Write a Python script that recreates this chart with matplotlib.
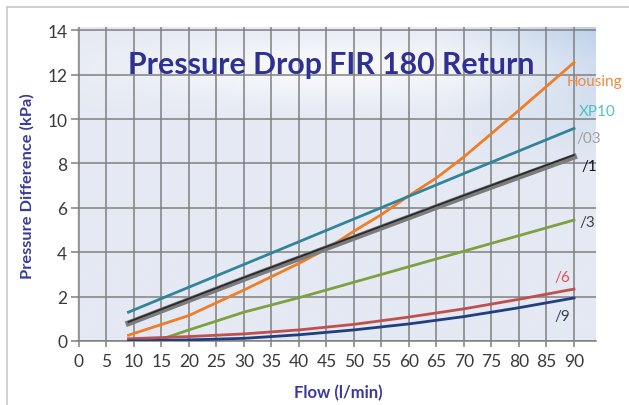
import numpy as np
import matplotlib.pyplot as plt
from matplotlib.colors import to_rgb

plt.rcParams['font.family'] = ['Lato', 'DejaVu Sans']

# data
flow_housing = [9, 20, 30, 40, 45, 50, 55, 60, 65, 70, 80, 90]
housing = [0.26, 1.15, 2.3, 3.5, 4.15, 4.95, 5.7, 6.55, 7.35, 8.3, 10.4, 12.55]

flow_xp10 = [9, 30, 50, 70, 90]
xp10 = [1.3, 3.45, 5.5, 7.55, 9.58]

flow_03 = [9, 30, 50, 70, 90]
f03 = [0.8, 2.8, 4.65, 6.5, 8.3]

flow_1 = [9, 30, 50, 70, 90]
f1 = [0.86, 2.86, 4.71, 6.56, 8.38]

flow_3 = [14, 20, 30, 40, 50, 60, 70, 80, 90]
f3 = [0.0, 0.5, 1.3, 1.95, 2.65, 3.35, 4.05, 4.75, 5.45]

flow_6 = [9, 20, 30, 40, 50, 60, 70, 80, 90]
f6 = [0.1, 0.2, 0.32, 0.5, 0.75, 1.08, 1.45, 1.88, 2.34]

flow_9 = [9, 20, 30, 40, 50, 60, 70, 80, 90]
f9 = [0.0, 0.05, 0.12, 0.28, 0.5, 0.77, 1.1, 1.5, 1.94]

x_ticks = list(range(0, 95, 5))
y_ticks = list(range(0, 15, 2))

fig = plt.figure(figsize=(6.29, 4.06), dpi=100)
fig.patch.set_facecolor('white')

# light outer frame
fig.add_artist(plt.Line2D([7 / 629, 7 / 629], [0, 1 - 8 / 406], color='#c8c8c8', lw=1.2))
fig.add_artist(plt.Line2D([7 / 629, 1], [1 - 8 / 406, 1 - 8 / 406], color='#c8c8c8', lw=1.2))

ax = fig.add_axes([77 / 629, 64 / 406, 519 / 629, 314 / 406])
xmin, xmax = -0.36, 94.0
ymin, ymax = 0, 14.15
ax.set_xlim(xmin, xmax)
ax.set_ylim(ymin, ymax)

# plot area background: pale blue with a light glow behind the title, bluer top right
h, w = 200, 300
yy, xx = np.mgrid[0:1:h * 1j, 0:1:w * 1j]
base = np.array(to_rgb('#e4e9f3'))
blue = np.array(to_rgb('#bcd0ea'))
white = np.array([1.0, 1.0, 1.0])
glow = np.exp(-(((xx - 0.5) / 0.4) ** 2 + ((yy - 0.13) / 0.1) ** 2))
tr = np.clip((xx - 0.7) / 0.3, 0, 1) * np.clip(1 - yy / 0.45, 0, 1)
img = base[None, None, :] * np.ones((h, w, 1))
img = img * (1 - tr[..., None]) + blue * tr[..., None]
img = img * (1 - 0.75 * glow[..., None]) + white * 0.75 * glow[..., None]
ax.imshow(img, extent=[xmin, xmax, ymin, ymax], origin='upper', aspect='auto', zorder=0)

ax.set_xticks(x_ticks)
ax.set_yticks(y_ticks)
ax.grid(True, color='#808080', lw=1.1, zorder=1)
ax.set_axisbelow(False)
for s in ['top', 'right', 'left']:
    ax.spines[s].set_visible(False)
ax.spines['bottom'].set_color('#808080')
ax.spines['bottom'].set_linewidth(1.1)
ax.tick_params(axis='both', colors='#808080', length=4, width=1.1,
               labelcolor='#3a3a3a', labelsize=12.5)
ax.tick_params(axis='x', pad=5)
ax.tick_params(axis='y', pad=3)

lw = 2.0
ax.plot(flow_housing, housing, color='#f07d28', lw=lw, zorder=3)
ax.plot(flow_xp10, xp10, color='#31849b', lw=lw, zorder=3)
ax.plot(flow_03, f03, color='#7c7c7c', lw=4.2, zorder=3)
ax.plot(flow_1, f1, color='#2a2a2a', lw=1.3, zorder=4)
ax.plot(flow_3, f3, color='#7fa040', lw=lw, zorder=3)
ax.plot(flow_6, f6, color='#c0504d', lw=lw, zorder=3)
ax.plot(flow_9, f9, color='#1f3f80', lw=lw, zorder=3)

lab = dict(fontsize=11, va='center', ha='left', clip_on=False, zorder=5)
ax.text(88.7, 11.7, 'Housing', color='#ef8a3e', **lab)
ax.text(90.9, 10.37, 'XP10', color='#4ec3c6', **lab)
ax.text(90.4, 9.13, '/03', color='#a0a0a0', **lab)
ax.text(91.3, 7.9, '/1', color='#111111', **lab)
ax.text(91.0, 5.35, '/3', color='#404040', **lab)
ax.text(86.4, 2.87, '/6', color='#e0505a', **lab)
ax.text(86.4, 1.14, '/9', color='#3a3f5a', **lab)

ax.text(45.9, 12.5, 'Pressure Drop FIR 180 Return', color='#2e3192',
        fontsize=21.8, fontweight='bold', ha='center', va='center', zorder=5)

fig.text(27 / 629, 1 - 186 / 406, 'Pressure Difference (kPa)', rotation=90,
         color='#3a3a9c', fontsize=11.8, fontweight='bold', ha='center', va='center')
fig.text(338 / 629, 1 - 393 / 406, 'Flow (l/min)', color='#3a3a9c',
         fontsize=12, fontweight='bold', ha='center', va='center')

fig.savefig('out.png', dpi=100)
